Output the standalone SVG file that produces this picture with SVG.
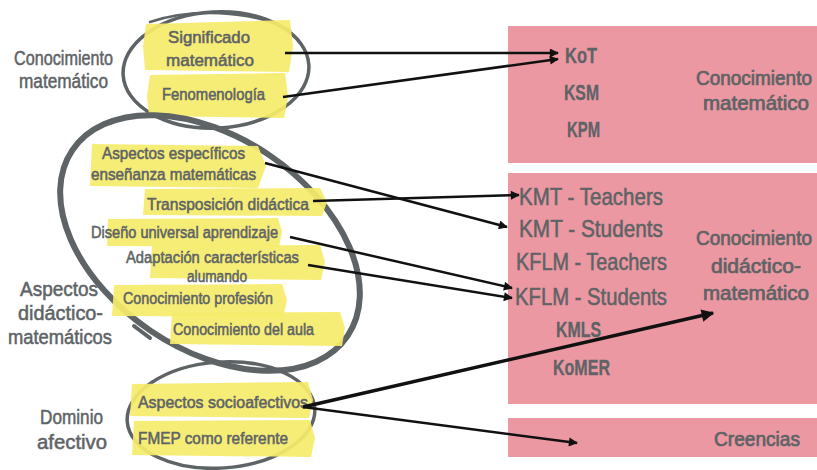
<svg xmlns="http://www.w3.org/2000/svg" width="817" height="470" viewBox="0 0 817 470">
<style>
.t{font-family:"Liberation Sans",Arial,sans-serif;fill:#5e6366;stroke:#5e6366;stroke-width:0.55;}
.lbl{font-size:21px;}
.hl{font-size:16.5px;}
.rt{font-size:24px;}
.rc{font-size:19.5px;stroke-width:0.7;}
.rb{font-size:22px;font-weight:bold;stroke-width:0.3;}
.hi{fill:#f5eb6a;opacity:0.92;}
.ring{fill:none;stroke:#5e6366;stroke-linecap:round;}
.box{fill:#ec98a2;}
.arr{stroke:#111;stroke-width:2.5;fill:none;marker-end:url(#ah);}
</style>
<defs>
<marker id="ah" viewBox="0 0 10 10" refX="9" refY="5" markerWidth="4" markerHeight="3.6" orient="auto" markerUnits="strokeWidth">
<path d="M0,0 L10,5 L0,10 Z" fill="#111"/>
</marker>
</defs>
<rect width="817" height="470" fill="#ffffff"/>

<g id="box-matematico">
<rect class="box" x="508" y="26" width="309" height="137"/>
<text class="t rb" x="565" y="63" textLength="32" lengthAdjust="spacingAndGlyphs">KoT</text>
<text class="t rb" x="564" y="100" textLength="35" lengthAdjust="spacingAndGlyphs">KSM</text>
<text class="t rb" x="567" y="137" textLength="33" lengthAdjust="spacingAndGlyphs">KPM</text>
<text class="t rc" x="696" y="85" textLength="116" lengthAdjust="spacingAndGlyphs">Conocimiento</text>
<text class="t rc" x="703" y="110" textLength="106" lengthAdjust="spacingAndGlyphs">matemático</text>
</g>

<g id="box-didactico">
<rect class="box" x="508" y="173" width="309" height="231"/>
<text class="t rt" x="519" y="205" textLength="144" lengthAdjust="spacingAndGlyphs">KMT - Teachers</text>
<text class="t rt" x="519" y="237" textLength="144" lengthAdjust="spacingAndGlyphs">KMT - Students</text>
<text class="t rt" x="516" y="270" textLength="151" lengthAdjust="spacingAndGlyphs">KFLM - Teachers</text>
<text class="t rt" x="515" y="305" textLength="152" lengthAdjust="spacingAndGlyphs">KFLM - Students</text>
<text class="t rb" x="556" y="337" textLength="45" lengthAdjust="spacingAndGlyphs">KMLS</text>
<text class="t rb" x="553" y="375" textLength="57" lengthAdjust="spacingAndGlyphs">KoMER</text>
<text class="t rc" x="696" y="245" textLength="116" lengthAdjust="spacingAndGlyphs">Conocimiento</text>
<text class="t rc" x="711" y="273" textLength="90" lengthAdjust="spacingAndGlyphs">didáctico-</text>
<text class="t rc" x="703" y="300" textLength="106" lengthAdjust="spacingAndGlyphs">matemático</text>
</g>

<g id="box-creencias">
<rect class="box" x="508" y="418" width="309" height="39"/>
<text class="t rc" x="714" y="446" textLength="86" lengthAdjust="spacingAndGlyphs">Creencias</text>
</g>

<g id="grupo-conocimiento-matematico">
<ellipse class="ring" cx="216" cy="70" rx="93" ry="58" stroke-width="3.5" transform="rotate(-3 216 70)"/>
<path class="ring" d="M150,22 C190,8 250,10 290,30" stroke-width="2.5"/>
<path class="hi" d="M146,24 L290,20 L293,46 L289,72 L145,70 L143,46 Z"/>
<path class="hi" d="M150,75 L285,73 L288,96 L284,118 L149,116 L147,96 Z"/>
<text class="t lbl" x="14" y="65" textLength="99" lengthAdjust="spacingAndGlyphs">Conocimiento</text>
<text class="t lbl" x="19" y="88" textLength="89" lengthAdjust="spacingAndGlyphs">matemático</text>
<text class="t hl" x="168" y="43" textLength="82" lengthAdjust="spacingAndGlyphs">Significado</text>
<text class="t hl" x="166" y="66" textLength="88" lengthAdjust="spacingAndGlyphs">matemático</text>
<text class="t hl" x="162" y="100" textLength="103" lengthAdjust="spacingAndGlyphs">Fenomenología</text>
</g>

<g id="grupo-didactico-matematico">
<ellipse class="ring" cx="210" cy="243" rx="166" ry="106" stroke-width="6" transform="rotate(34 210 243)"/>
<path class="ring" d="M134,326 L150,338" stroke-width="4"/>
<path class="hi" d="M92,144 L258,146 L266,166 L258,188 L90,186 Z"/>
<path class="hi" d="M145,189 L320,188 L327,202 L322,216 L143,215 Z"/>
<path class="hi" d="M108,219 L278,218 L282,232 L279,247 L107,246 Z"/>
<path class="hi" d="M152,246 L320,245 L325,262 L321,280 L150,278 Z"/>
<path class="hi" d="M114,285 L282,284 L287,300 L283,317 L112,316 Z"/>
<path class="hi" d="M172,313 L340,312 L345,328 L342,346 L170,344 Z"/>
<text class="t lbl" x="20" y="296" textLength="78" lengthAdjust="spacingAndGlyphs">Aspectos</text>
<text class="t lbl" x="18" y="320" textLength="85" lengthAdjust="spacingAndGlyphs">didáctico-</text>
<text class="t lbl" x="8" y="344" textLength="104" lengthAdjust="spacingAndGlyphs">matemáticos</text>
<text class="t hl" x="102" y="159" textLength="143" lengthAdjust="spacingAndGlyphs">Aspectos específicos</text>
<text class="t hl" x="91" y="180" textLength="165" lengthAdjust="spacingAndGlyphs">enseñanza matemáticas</text>
<text class="t hl" x="147" y="210" textLength="162" lengthAdjust="spacingAndGlyphs">Transposición didáctica</text>
<text class="t hl" x="91" y="238" textLength="187" lengthAdjust="spacingAndGlyphs">Diseño universal aprendizaje</text>
<text class="t hl" x="126" y="263" textLength="173" lengthAdjust="spacingAndGlyphs">Adaptación características</text>
<text class="t hl" x="187" y="282" textLength="60" lengthAdjust="spacingAndGlyphs">alumando</text>
<text class="t hl" x="123" y="304" textLength="150" lengthAdjust="spacingAndGlyphs">Conocimiento profesión</text>
<text class="t hl" x="173" y="335" textLength="141" lengthAdjust="spacingAndGlyphs">Conocimiento del aula</text>
</g>

<g id="grupo-dominio-afectivo">
<ellipse class="ring" cx="221" cy="415" rx="94" ry="53" stroke-width="3.5" transform="rotate(-4 221 415)"/>
<path class="hi" d="M132,384 L308,382 L313,400 L309,418 L130,416 Z"/>
<path class="hi" d="M134,421 L310,420 L315,438 L311,457 L132,455 Z"/>
<text class="t lbl" x="40" y="424" textLength="63" lengthAdjust="spacingAndGlyphs">Dominio</text>
<text class="t lbl" x="37" y="449" textLength="70" lengthAdjust="spacingAndGlyphs">afectivo</text>
<text class="t hl" x="138" y="408" textLength="170" lengthAdjust="spacingAndGlyphs">Aspectos socioafectivos</text>
<text class="t hl" x="138" y="444" textLength="150" lengthAdjust="spacingAndGlyphs">FMEP como referente</text>
</g>

<g id="connectors">
<line class="arr" x1="285" y1="53" x2="558" y2="53"/>
<line class="arr" x1="283" y1="97" x2="558" y2="59"/>
<line class="arr" x1="265" y1="163" x2="507" y2="227"/>
<line class="arr" x1="313" y1="201" x2="519" y2="195"/>
<line class="arr" x1="290" y1="237" x2="512" y2="288"/>
<line class="arr" x1="308" y1="265" x2="512" y2="298"/>
<line class="arr" x1="303" y1="407" x2="713" y2="313" style="stroke-width:3.5"/>
<line class="arr" x1="303" y1="407" x2="577" y2="443"/>
</g>
</svg>
